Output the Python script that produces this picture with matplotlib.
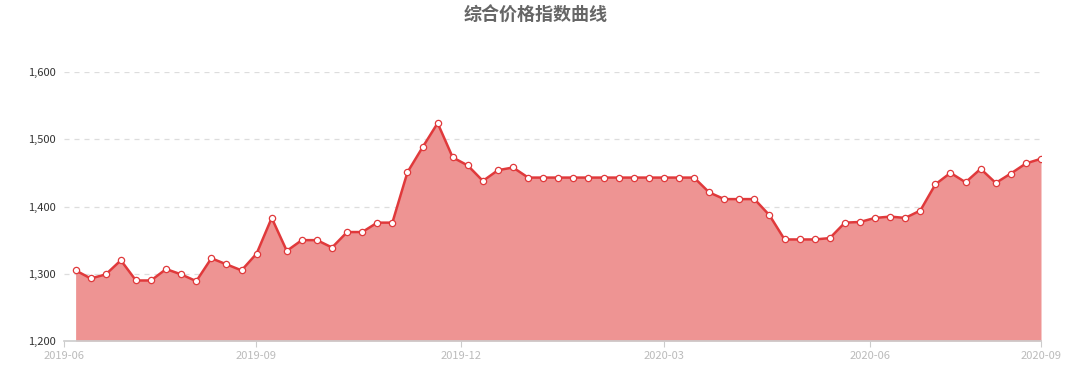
import matplotlib
matplotlib.use("Agg")
import matplotlib.pyplot as plt

plt.rcParams['font.family'] = ['Noto Sans CJK SC', 'DejaVu Sans']

# weekly index values
values = [1305, 1293, 1299, 1320, 1290, 1290, 1307, 1299, 1289, 1323,
          1314, 1305, 1330, 1383, 1334, 1350, 1350, 1339, 1362, 1362,
          1376, 1376, 1451, 1488, 1524, 1473, 1461, 1438, 1454, 1458,
          1443, 1443, 1443, 1443, 1443, 1443, 1443, 1443, 1443, 1443,
          1443, 1443, 1421, 1411, 1411, 1411, 1387, 1351, 1351, 1351,
          1353, 1376, 1377, 1383, 1385, 1383, 1394, 1433, 1450, 1436,
          1456, 1435, 1449, 1464, 1471]
month_labels = ["2019-06", "2019-09", "2019-12", "2020-03", "2020-06", "2020-09"]
month_pos = [-0.77, 11.94, 25.58, 38.99, 52.66, 64]
y_ticks = [1200, 1300, 1400, 1500, 1600]

x = list(range(len(values)))

fig = plt.figure(figsize=(10.81, 3.88), dpi=100)
ax = fig.add_axes([64 / 1081, 47 / 388, (1041 - 64) / 1081, (341 - 72) / 388])

ax.fill_between(x, values, 1200, color="#ee9493", lw=0, zorder=1)
ax.plot(x, values, color="#e0393b", lw=1.8, zorder=3)
ax.plot(x, values, 'o', ms=4.5, mfc="white", mec="#e0393b", mew=0.9, zorder=4)

ax.set_xlim(-0.77, 64)
ax.set_ylim(1200, 1600)
ax.set_yticks(y_ticks)
ax.set_yticklabels([f"{v:,}" for v in y_ticks])
ax.set_xticks(month_pos)
ax.set_xticklabels(month_labels)

for v in y_ticks[1:]:
    ax.axhline(v, color="#dddddd", lw=0.9, ls=(0, (4, 4)), zorder=0)

for s in ["top", "right", "left"]:
    ax.spines[s].set_visible(False)
ax.spines["bottom"].set_color("#cccccc")
ax.spines["bottom"].set_linewidth(1.2)

ax.tick_params(axis="y", length=0, pad=6, labelsize=8, labelcolor="#333333")
ax.tick_params(axis="x", length=4, color="#cccccc", pad=3, labelsize=8,
               labelcolor="#bbbbbb")

fig.text(536 / 1081, 1 - 15 / 388, "综合价格指数曲线", ha="center", va="center",
         fontsize=13, fontweight="bold", color="#666666")

fig.savefig("out.png", dpi=100)
